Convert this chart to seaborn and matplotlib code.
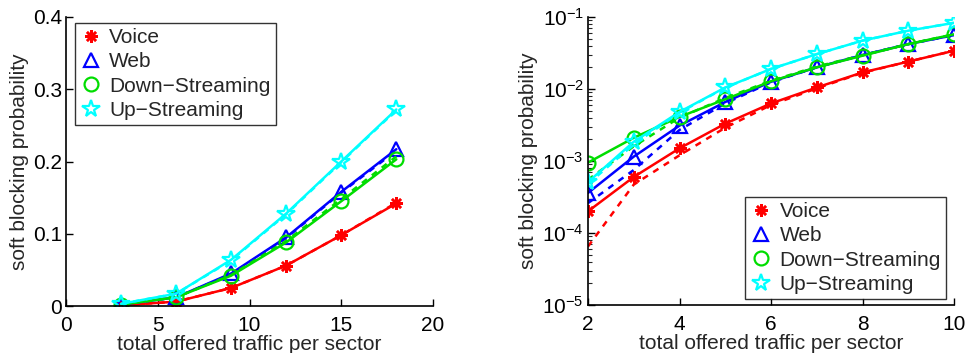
import numpy as np
import pandas as pd
import seaborn as sns
import matplotlib
matplotlib.use("Agg")
import matplotlib.pyplot as plt
from matplotlib.lines import Line2D

sns.set_theme(style="ticks")
plt.rcParams['font.family'] = ['Liberation Sans', 'DejaVu Sans']

series = ["Voice", "Web", "Down\u2212Streaming", "Up\u2212Streaming"]
colors = ["#ff0000", "#0000ff", "#00dd00", "#00ffff"]

# Left panel (linear)
x_left = [3, 6, 9, 12, 15, 18]
left_sim = {
    "Voice": [0.001, 0.006, 0.025, 0.056, 0.098, 0.142],
    "Web": [0.002, 0.012, 0.045, 0.095, 0.158, 0.217],
    "Down\u2212Streaming": [0.002, 0.012, 0.042, 0.088, 0.145, 0.203],
    "Up\u2212Streaming": [0.003, 0.017, 0.064, 0.128, 0.200, 0.272],
}
left_ana = {
    "Voice": [0.001, 0.006, 0.025, 0.056, 0.098, 0.143],
    "Web": [0.002, 0.012, 0.044, 0.094, 0.157, 0.215],
    "Down\u2212Streaming": [0.002, 0.012, 0.043, 0.090, 0.148, 0.207],
    "Up\u2212Streaming": [0.003, 0.017, 0.063, 0.127, 0.199, 0.271],
}

# Right panel (log)
x_right = [2, 3, 4, 5, 6, 7, 8, 9, 10]
right_sim = {
    "Voice": [2.0e-4, 6.0e-4, 1.5e-3, 3.3e-3, 6.3e-3, 1.05e-2, 1.7e-2, 2.4e-2, 3.4e-2],
    "Web": [3.6e-4, 1.15e-3, 3.1e-3, 6.6e-3, 1.26e-2, 2.0e-2, 2.96e-2, 4.2e-2, 5.6e-2],
    "Down\u2212Streaming": [9.5e-4, 2.1e-3, 4.1e-3, 7.2e-3, 1.28e-2, 2.0e-2, 2.9e-2, 4.2e-2, 5.75e-2],
    "Up\u2212Streaming": [5.1e-4, 1.85e-3, 4.8e-3, 1.05e-2, 1.9e-2, 3.05e-2, 4.7e-2, 6.45e-2, 8.3e-2],
}
right_ana = {
    "Voice": [6.5e-5, 4.7e-4, 1.2e-3, 2.9e-3, 6.0e-3, 1.02e-2, 1.68e-2, 2.4e-2, 3.4e-2],
    "Web": [2.6e-4, 7.5e-4, 2.7e-3, 6.3e-3, 1.24e-2, 2.0e-2, 2.95e-2, 4.2e-2, 5.6e-2],
    "Down\u2212Streaming": [5.5e-4, 1.6e-3, 4.0e-3, 7.5e-3, 1.3e-2, 2.05e-2, 2.95e-2, 4.2e-2, 5.75e-2],
    "Up\u2212Streaming": [4.8e-4, 1.7e-3, 4.7e-3, 1.04e-2, 1.9e-2, 3.05e-2, 4.7e-2, 6.45e-2, 8.3e-2],
}

markers = [(8, 2, 0), "^", "o", "*"]
msizes = [9, 10, 10, 13]
FS = 15

fig = plt.figure(figsize=(9.69, 3.53), dpi=100)
W, H = 969, 353
axL = fig.add_axes([66 / W, 1 - 306 / H, (433 - 66) / W, (306 - 17) / H])
axR = fig.add_axes([588 / W, 1 - 305 / H, (954 - 588) / W, (305 - 17) / H])

def draw(ax, xs, sim, ana):
    for s, c, m, ms in zip(series, colors, markers, msizes):
        sns.lineplot(x=xs, y=ana[s], ax=ax, color=c, lw=1.8, linestyle=(0, (2.5, 2.5)))
        kw = dict(markerfacecolor="none", markeredgecolor=c, markeredgewidth=1.6)
        if m == (8, 2, 0):
            kw = dict(markeredgecolor=c, markeredgewidth=1.8)
        sns.lineplot(x=xs, y=sim[s], ax=ax, color=c, lw=1.8, marker=m, markersize=ms, **kw)

draw(axL, x_left, left_sim, left_ana)
draw(axR, x_right, right_sim, right_ana)

axL.set_xlim(0, 20)
axL.set_ylim(0, 0.4)
axL.set_xticks([0, 5, 10, 15, 20])
axL.set_yticks([0, 0.1, 0.2, 0.3, 0.4])
axL.set_yticklabels(["0", "0.1", "0.2", "0.3", "0.4"])

axR.set_yscale("log")
axR.set_xlim(2, 10)
axR.set_ylim(1e-5, 1e-1)
axR.set_xticks([2, 4, 6, 8, 10])
axR.set_yticks([1e-5, 1e-4, 1e-3, 1e-2, 1e-1])

for ax in (axL, axR):
    ax.set_xlabel("total offered traffic per sector", fontsize=FS, labelpad=0)
    ax.set_ylabel("soft blocking probability", fontsize=FS, labelpad=3)
    ax.tick_params(direction="in", labelsize=FS, length=5, width=1, colors="black", pad=3)
    ax.tick_params(axis="x", pad=7)
    ax.tick_params(which="minor", direction="in", length=3, width=0.8)
    for sp in ("top", "right"):
        ax.spines[sp].set_visible(False)
    for sp in ("left", "bottom"):
        ax.spines[sp].set_color("black")
        ax.spines[sp].set_linewidth(1.2)
    ax.set_facecolor("white")

handles = []
for s, c, m, ms in zip(series, colors, markers, msizes):
    if m == (8, 2, 0):
        h = Line2D([], [], linestyle="none", marker=m, color=c, markersize=ms, markeredgewidth=1.8)
    else:
        h = Line2D([], [], linestyle="none", marker=m, markerfacecolor="none",
                   markeredgecolor=c, markersize=ms, markeredgewidth=1.6)
    handles.append(h)

legkw = dict(fontsize=FS, frameon=True, fancybox=False, handlelength=1.0,
             handletextpad=0.4, borderpad=0.25, labelspacing=0.25, borderaxespad=0)
legL = axL.legend(handles, series, loc="upper left",
                  bbox_to_anchor=((75 - 66) / (433 - 66), (306 - 23) / (306 - 17)), **legkw)
legR = axR.legend(handles, series, loc="lower right",
                  bbox_to_anchor=((946 - 588) / (954 - 588), (305 - 299) / (305 - 17)), **legkw)
for leg in (legL, legR):
    leg.get_frame().set_edgecolor("black")
    leg.get_frame().set_linewidth(1.0)

fig.savefig("out.png", dpi=100)
